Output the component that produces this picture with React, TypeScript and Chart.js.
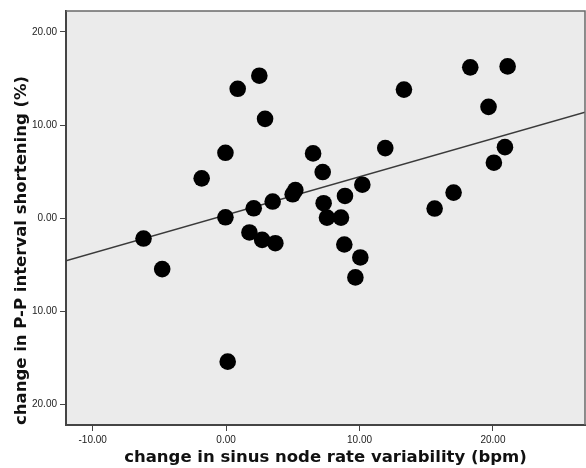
import React, { useEffect, useRef } from "react";
import { Chart, registerables } from "chart.js";

Chart.register(...registerables);

// Scatter points: change in sinus node rate variability (bpm) vs change in P-P interval shortening (%)
const xValues = [
  0.87, 2.49, 2.92, -0.05, -1.83, -0.05, 2.07, 3.49, 4.99, 5.19,
  -6.19, -4.79, 1.75, 2.7, 3.69, 0.12, 13.33, 18.3, 21.1, 19.67,
  20.9, 20.07, 11.93, 6.52, 7.24, 10.21, 8.91, 7.31, 7.56, 8.61,
  17.05, 15.63, 8.86, 10.06, 9.69,
];
const yValues = [
  13.9, 15.3, 10.67, 7.03, 4.28, 0.1, 1.07, 1.79, 2.57, 3.03,
  -2.18, -5.46, -1.53, -2.32, -2.68, -15.4, 13.81, 16.2, 16.3, 11.96,
  7.63, 5.96, 7.53, 6.96, 4.96, 3.6, 2.39, 1.61, 0.07, 0.07,
  2.75, 1.04, -2.82, -4.21, -6.35,
];

// Fit line endpoints
const fitX = [-12, 26.9];
const fitY = [-4.57, 11.38];

const xTickValues = [-10, 0, 10, 20];
const xTickLabels = ["-10.00", "0.00", "10.00", "20.00"];
const yTickValues = [20, 10, 0, -10, -20];
const yTickLabels = ["20.00", "10.00", "0.00", "10.00", "20.00"];

const xTitle = "change in sinus node rate variability (bpm)";
const yTitle = "change in P-P interval shortening (%)";

const frame = {
  id: "frame",
  beforeDraw(chart: any) {
    const { ctx, chartArea: a } = chart;
    ctx.save();
    ctx.fillStyle = "#ebebeb";
    ctx.fillRect(a.left, a.top, a.right - a.left, a.bottom - a.top);
    ctx.restore();
  },
  afterDraw(chart: any) {
    const { ctx, chartArea: a } = chart;
    ctx.save();
    ctx.strokeStyle = "#6a6a6a";
    ctx.lineWidth = 1.5;
    ctx.beginPath();
    ctx.moveTo(a.left, a.top);
    ctx.lineTo(a.right, a.top);
    ctx.lineTo(a.right, a.bottom);
    ctx.stroke();
    ctx.restore();
  },
};

export default function App() {
  const ref = useRef<HTMLCanvasElement>(null);
  useEffect(() => {
    if (!ref.current) return;
    const tickFont = { family: "'Liberation Sans', Arial, sans-serif", size: 10 };
    const titleFont = { family: "'DejaVu Sans', Verdana, sans-serif", size: 16.5, weight: "bold" as const };
    const chart = new Chart(ref.current, {
      type: "scatter",
      data: {
        datasets: [
          {
            type: "scatter",
            data: xValues.map((x, i) => ({ x, y: yValues[i] })),
            backgroundColor: "#000",
            borderWidth: 0,
            pointRadius: 8.3,
            order: 0,
          },
          {
            type: "line",
            data: fitX.map((x, i) => ({ x, y: fitY[i] })),
            borderColor: "#3a3a3a",
            borderWidth: 1.3,
            pointRadius: 0,
            fill: false,
            order: 1,
          } as any,
        ],
      },
      options: {
        responsive: false,
        animation: false,
        layout: { autoPadding: false, padding: { top: 11, right: 1, left: 0, bottom: 0 } },
        plugins: { legend: { display: false }, tooltip: { enabled: false } },
        scales: {
          x: {
            type: "linear",
            min: -12,
            max: 26.9,
            afterBuildTicks: (s: any) => {
              s.ticks = xTickValues.map((v) => ({ value: v }));
            },
            afterFit: (s: any) => {
              s.height = 43;
            },
            ticks: {
              autoSkip: false,
              maxRotation: 0,
              padding: 3,
              color: "#222",
              font: tickFont,
              callback: (_v: any, i: number) => xTickLabels[i],
            },
            grid: { drawOnChartArea: false, drawTicks: true, tickLength: 6, color: "#444" },
            border: { display: true, color: "#444", width: 2 },
            title: {
              display: true,
              text: xTitle,
              color: "#111",
              font: titleFont,
              padding: { top: 0, bottom: 0.5 },
            },
          },
          y: {
            type: "linear",
            min: -22.2,
            max: 22.25,
            afterBuildTicks: (s: any) => {
              s.ticks = yTickValues.map((v) => ({ value: v }));
            },
            afterFit: (s: any) => {
              s.width = 66;
            },
            ticks: {
              autoSkip: false,
              padding: 3,
              color: "#222",
              font: tickFont,
              callback: (_v: any, i: number) => yTickLabels[i],
            },
            grid: { drawOnChartArea: false, drawTicks: true, tickLength: 6, color: "#444" },
            border: { display: true, color: "#444", width: 2 },
            title: {
              display: true,
              text: yTitle,
              align: "start",
              color: "#111",
              font: titleFont,
              padding: { top: 12, bottom: 0 },
            },
          },
        },
      },
      plugins: [frame],
    });
    return () => chart.destroy();
  }, []);
  return (
    <div style={{ position: "fixed", left: 0, top: 0, width: 586, height: 468, background: "#fff" }}>
      <canvas ref={ref} width={586} height={468} style={{ display: "block" }} />
    </div>
  );
}
